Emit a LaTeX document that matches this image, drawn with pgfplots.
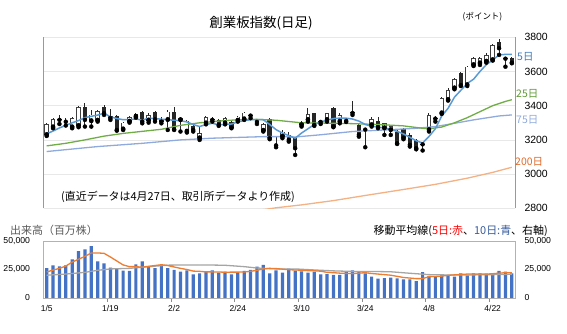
\documentclass[border=0pt]{standalone}
\usepackage{fontspec}
\setmainfont{Liberation Sans}
\newfontfamily\jp{Noto Sans CJK JP}
\usepackage{pgfplots}
\pgfplotsset{compat=1.18}
\usepackage{pgfplotstable}

\definecolor{volblue}{HTML}{4472C4}
\definecolor{volorange}{HTML}{ED7D31}
\definecolor{volgray}{HTML}{A5A5A5}
\definecolor{maA}{HTML}{5B9BD5}
\definecolor{maB}{HTML}{70AD47}
\definecolor{maC}{HTML}{8FAADC}
\definecolor{maD}{HTML}{F4B183}
\definecolor{labA}{HTML}{3E7CC0}
\definecolor{labB}{HTML}{5E9A32}
\definecolor{labC}{HTML}{8FAADC}
\definecolor{labD}{HTML}{E0692A}
\definecolor{txtgray}{HTML}{595959}

% up candles (open < close)
\pgfplotstableread{
i o h l c
0 3229 3297 3223 3291
1 3274 3327 3268 3321
4 3274 3332 3268 3326
5 3282 3399 3274 3391
7 3310 3375 3278 3348
8 3313 3375 3307 3369
12 3262 3307 3258 3301
13 3307 3340 3301 3332
14 3336 3356 3330 3350
16 3313 3356 3301 3346
19 3317 3375 3258 3365
21 3316 3332 3249 3328
22 3249 3317 3243 3313
24 3210 3278 3200 3239
25 3297 3340 3291 3332
28 3297 3332 3291 3326
30 3313 3340 3307 3336
31 3321 3365 3317 3360
34 3254 3297 3249 3293
37 3219 3258 3210 3249
40 3287 3313 3278 3307
41 3317 3385 3307 3352
44 3317 3360 3307 3356
46 3307 3356 3297 3346
51 3287 3331 3278 3321
53 3268 3301 3229 3297
54 3258 3288 3229 3282
60 3258 3356 3249 3346
62 3356 3453 3352 3443
63 3434 3502 3430 3492
64 3502 3560 3496 3554
66 3521 3632 3515 3628
67 3638 3687 3632 3677
68 3648 3687 3638 3677
69 3658 3706 3652 3697
70 3667 3761 3664 3755
}\upt

% down candles and dojis (open >= close)
\pgfplotstableread{
i o h l c
2 3321 3346 3293 3317
3 3311 3326 3284 3306
6 3391 3418 3278 3317
9 3391 3405 3346 3356
10 3340 3379 3317 3327
11 3340 3346 3254 3258
15 3365 3370 3297 3307
17 3365 3370 3307 3321
18 3321 3332 3297 3307
20 3365 3391 3258 3262
23 3282 3288 3249 3258
26 3321 3336 3307 3317
27 3317 3321 3282 3288
29 3307 3313 3268 3272
32 3346 3352 3327 3342
33 3309 3321 3293 3305
35 3321 3327 3204 3210
36 3172 3219 3157 3168
38 3229 3249 3190 3200
39 3210 3219 3112 3151
42 3356 3360 3282 3287
43 3309 3317 3293 3305
45 3385 3391 3274 3278
47 3315 3321 3305 3311
48 3362 3428 3346 3357
49 3287 3301 3219 3229
50 3264 3268 3157 3260
52 3313 3333 3268 3274
55 3249 3258 3176 3180
56 3262 3268 3204 3210
57 3229 3239 3161 3171
58 3200 3204 3145 3151
59 3178 3190 3138 3174
61 3328 3340 3307 3324
65 3593 3599 3515 3521
71 3774 3788 3697 3736
72 3679 3687 3628 3675
73 3677 3683 3648 3652
}\downt

\pgfplotstableread{
i v
0 26300
1 28700
2 27800
3 28700
4 33900
5 41200
6 42700
7 45600
8 32200
9 30400
10 26600
11 26300
12 24000
13 23700
14 29500
15 32200
16 27500
17 26300
18 28700
19 26300
20 24600
21 23100
22 24300
23 20800
24 21600
25 22800
26 24300
27 22200
28 23100
29 20800
30 22200
31 23700
32 24600
33 27500
34 29000
35 21600
36 24300
37 22200
38 25700
39 24000
40 23400
41 22200
42 23100
43 20800
44 21000
45 20200
46 20200
47 23100
48 24300
49 22800
50 21600
51 18700
52 17000
53 17500
54 17800
55 17300
56 16400
57 16400
58 14900
59 22800
60 19300
61 18700
62 19900
63 19900
64 18700
65 21600
66 19900
67 21600
68 21600
69 21300
70 20800
71 23700
72 23100
73 21600
}\volt

\begin{document}
\begin{tikzpicture}
\useasboundingbox (0,0) rectangle (567bp,334bp);

% ---------------- price panel ----------------
\begin{axis}[
  at={(43.5bp,125.7bp)}, anchor=south west,
  scale only axis, width=471.5bp, height=171bp,
  xmin=-0.5, xmax=73.5, ymin=2800, ymax=3800,
  xtick=\empty,
  ytick={2800,3000,3200,3400,3600,3800},
  yticklabel pos=right,
  ymajorgrids, grid style={draw=black!9, line width=0.6bp},
  major tick length=0pt,
  separate axis lines,
  x axis line style={draw=none},
  y axis line style={draw=black!40, line width=0.9bp},
  yticklabel style={font=\fontsize{10.5}{12}\selectfont, xshift=6bp},
  /pgf/number format/1000 sep={},
  /pgf/number format/assume math mode=true,
]
% wicks
\addplot[only marks, mark=none, forget plot,
  error bars/.cd, y dir=plus, y explicit, error mark=none,
  error bar style={draw=black!85, line width=1bp}]
  table[x=i, y=l, y error plus expr=\thisrow{h}-\thisrow{l}] {\upt};
\addplot[only marks, mark=none, forget plot,
  error bars/.cd, y dir=plus, y explicit, error mark=none,
  error bar style={draw=black!85, line width=1bp}]
  table[x=i, y=l, y error plus expr=\thisrow{h}-\thisrow{l}] {\downt};
% down bodies
\addplot[only marks, mark=none, forget plot,
  error bars/.cd, y dir=plus, y explicit, error mark=none,
  error bar style={draw=black!85, line width=4.4bp}]
  table[x=i, y=c, y error plus expr=\thisrow{o}-\thisrow{c}] {\downt};
% up bodies (outline + white interior)
\addplot[only marks, mark=none, forget plot,
  error bars/.cd, y dir=plus, y explicit, error mark=none,
  error bar style={draw=black!75, line width=4.4bp}]
  table[x=i, y=o, y error plus expr=\thisrow{c}-\thisrow{o}] {\upt};
\addplot[only marks, mark=none, forget plot,
  error bars/.cd, y dir=plus, y explicit, error mark=none,
  error bar style={draw=white, line width=2.8bp}]
  table[x=i, y expr=\thisrow{o}+4, y error plus expr=\thisrow{c}-\thisrow{o}-8] {\upt};

% 200-day
\addplot[maD, line width=1.3bp, mark=none] coordinates {
(30,2770)(36,2803)(40,2820)(45,2845)(50,2875)(56,2910)(61,2940)(66,2976)(70,3010)(73,3040)};
% 75-day
\addplot[maC, line width=1.3bp, mark=none] coordinates {
(0,3132)(8,3161)(15,3180)(21,3200)(26,3210)(34,3219)(37,3219)(39,3217)(43,3230)(48,3249)(53,3258)(58,3268)(61,3278)(64,3297)(67,3317)(71,3340)(73,3346)};
% 25-day
\addplot[maB, line width=1.3bp, mark=none] coordinates {
(0,3165)(3,3180)(6,3200)(9,3222)(12,3238)(15,3250)(18,3262)(21,3285)(24,3300)(27,3310)(30,3318)(33,3320)(36,3315)(40,3300)(44,3298)(48,3295)(52,3290)(56,3282)(59,3268)(60,3265)(62,3275)(64,3300)(66,3330)(68,3365)(70,3400)(72,3425)(73,3435)};
% 5-day
\addplot[maA, line width=1.5bp, mark=none] coordinates {
(0,3235)(1,3252)(2,3270)(3,3285)(4,3300)(5,3313)(6,3330)(7,3338)(8,3345)(9,3356)
(10,3335)(11,3325)(12,3318)(13,3318)(14,3323)(15,3315)(16,3327)(17,3325)(18,3321)(19,3318)
(20,3315)(21,3312)(22,3305)(23,3290)(24,3278)(25,3290)(26,3297)(27,3288)(28,3290)(29,3293)
(30,3305)(31,3313)(32,3318)(33,3318)(34,3318)(35,3290)(36,3260)(37,3240)(38,3225)(39,3210)
(40,3240)(41,3265)(42,3290)(43,3305)(44,3315)(45,3325)(46,3327)(47,3327)(48,3322)(49,3310)
(50,3290)(51,3280)(52,3275)(53,3270)(54,3262)(55,3250)(56,3235)(57,3215)(58,3195)(59,3182)
(60,3220)(61,3265)(62,3340)(63,3385)(64,3450)(65,3490)(66,3530)(67,3555)(68,3600)(69,3640)
(70,3667)(71,3697)(72,3700)(73,3700)};
\end{axis}

% ---------------- volume panel (bars, left axis) ----------------
\begin{axis}[
  at={(43.5bp,36bp)}, anchor=south west,
  scale only axis, width=471.5bp, height=57bp,
  xmin=-0.5, xmax=73.5, ymin=0, ymax=50000,
  ytick={0,25000,50000},
  scaled y ticks=false,
  /pgf/number format/fixed,
  /pgf/number format/1000 sep={,},
  /pgf/number format/assume math mode=true,
  yticklabel style={font=\fontsize{8.7}{10}\selectfont, xshift=-6bp},
  xtick={9.5,19.5,29.5,39.5,49.5,59.5,69.5},
  xticklabels={},
  extra x ticks={0,10,20,30,40,50,60,70},
  extra x tick labels={1/5,1/19,2/2,2/24,3/10,3/24,4/8,4/22},
  extra x tick style={major tick length=0pt},
  xticklabel style={font=\fontsize{8.5}{10}\selectfont, yshift=-4bp},
  xtick pos=left, tick align=outside,
  ytick style={draw=none},
  xtick style={draw=black!45, line width=0.7bp},
  major tick length=4bp,
  axis line style={draw=black!30, line width=0.8bp},
]
\addplot[ybar, bar width=3.2bp, fill=volblue, draw=none] table[x=i, y=v] {\volt};
\end{axis}

% ---------------- volume panel (lines, right axis) ----------------
\begin{axis}[
  at={(43.5bp,36bp)}, anchor=south west,
  scale only axis, width=471.5bp, height=57bp,
  xmin=-0.5, xmax=73.5, ymin=0, ymax=50000,
  ytick={0,25000,50000},
  yticklabel pos=right,
  scaled y ticks=false,
  /pgf/number format/fixed,
  /pgf/number format/1000 sep={,},
  /pgf/number format/assume math mode=true,
  yticklabel style={font=\fontsize{8.7}{10}\selectfont, xshift=6bp},
  xtick=\empty,
  major tick length=0pt,
  axis line style={draw=none},
]
\addplot[volgray, line width=1.3bp, mark=none] coordinates {
(0,20000)(3,21000)(6,22500)(8,24300)(10,25500)(13,26000)(16,27500)(19,28800)(22,29000)(25,29000)(28,28700)(31,27500)(33,26300)(36,25500)(39,25500)(42,24600)(45,23800)(48,23300)(51,23300)(54,23000)(57,21700)(60,20500)(63,20200)(66,20200)(70,20500)(73,20800)};
\addplot[volorange, line width=1.3bp, mark=none] coordinates {
(0,22800)(1,24500)(2,26000)(3,28000)(4,31500)(5,34000)(6,36500)(7,39500)(8,39500)(9,39200)
(10,36000)(11,32500)(12,29000)(13,27500)(14,27500)(15,27000)(16,27800)(17,28500)(18,29200)(19,28500)
(20,27200)(21,26000)(22,25000)(23,23600)(24,23400)(25,22900)(26,22900)(27,22800)(28,22600)(29,22700)
(30,22700)(31,22800)(32,23400)(33,24300)(34,25500)(35,26000)(36,25800)(37,25300)(38,24800)(39,24600)
(40,24300)(41,24000)(42,23900)(43,23500)(44,22500)(45,22200)(46,21800)(47,21600)(48,21400)(49,21800)
(50,22200)(51,21500)(52,21000)(53,20500)(54,20000)(55,19000)(56,18000)(57,17500)(58,17000)(59,17000)
(60,18700)(61,18900)(62,19200)(63,19900)(64,20300)(65,20600)(66,21000)(67,21000)(68,21000)(69,21000)
(70,21300)(71,21800)(72,22200)(73,22200)};
\end{axis}

% ---------------- texts ----------------
\node[anchor=center] at (261bp,310.7bp) {\jp\fontsize{13.5}{15}\selectfont 創業板指数(日足)};
\node[anchor=center] at (482.5bp,317bp) {\jp\fontsize{8.5}{10}\selectfont (ポイント)};
\node[anchor=west, inner sep=0pt, text=labA] at (517bp,277bp) {\jp\fontsize{10.5}{12}\selectfont 5日};
\node[anchor=west, inner sep=0pt, text=labB] at (516bp,240bp) {\jp\fontsize{10.5}{12}\selectfont 25日};
\node[anchor=west, inner sep=0pt, text=labC] at (516bp,214bp) {\jp\fontsize{10.5}{12}\selectfont 75日};
\node[anchor=west, inner sep=0pt, text=labD] at (515bp,172bp) {\jp\fontsize{10.5}{12}\selectfont 200日};
\node[anchor=west, inner sep=0pt] at (61bp,137.3bp) {\jp\fontsize{11}{13}\selectfont (直近データは4月27日、取引所データより作成)};
\node[anchor=west, inner sep=0pt, text=txtgray] at (10bp,104bp) {\jp\fontsize{11}{13}\selectfont 出来高（百万株）};
\node[anchor=east, inner sep=0pt] at (548bp,103bp) {\jp\fontsize{11}{13}\selectfont 移動平均線(\textcolor{red}{5日:赤}、\textcolor{volblue!80!black}{10日:青}、右軸)};
\end{tikzpicture}
\end{document}
